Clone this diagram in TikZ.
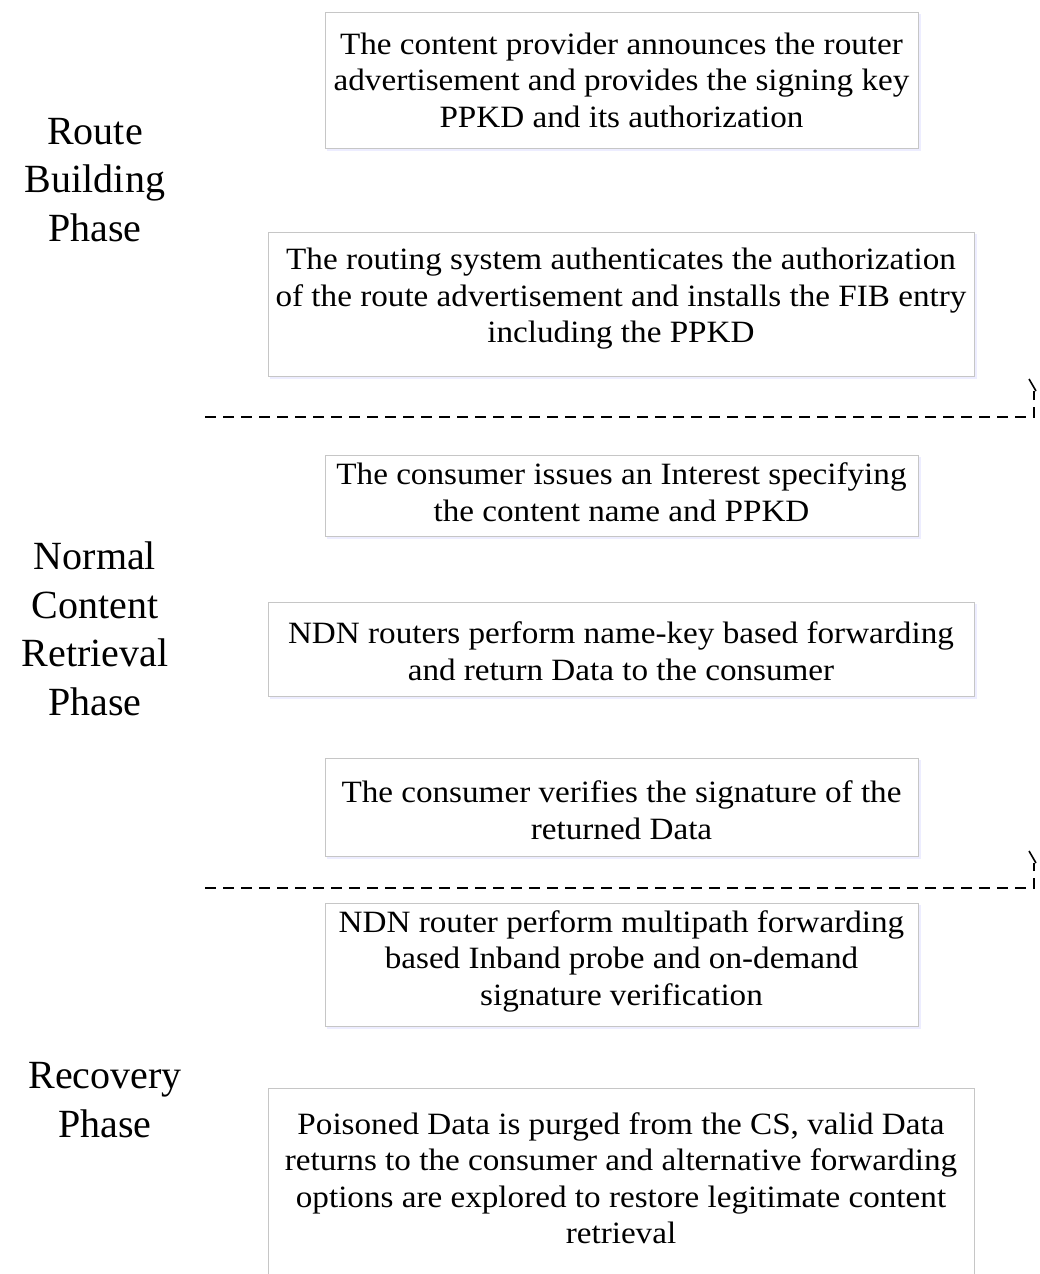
\documentclass[tikz,border=0pt]{standalone}
\usepackage{fontspec}
\setmainfont{Liberation Serif}
\newfontfamily\boxfont[FakeStretch=1.07]{Liberation Serif}
\usetikzlibrary{arrows.meta}
\begin{document}
\begin{tikzpicture}[x=1pt,y=-1pt,
  stepbox/.style={draw=gray!45, line width=1.3pt, fill=white, inner sep=0pt, anchor=north west},
  steptext/.style={align=center, font=\boxfont\fontsize{31}{36.5}\selectfont},
  phase/.style={align=center, font=\fontsize{40}{48.5}\selectfont},
  sep/.style={line width=1.6pt, dash pattern=on 11pt off 7pt},
  shade/.style={fill=blue!7, draw=none}]
\useasboundingbox (0,0) rectangle (1040,1274);
\clip (0,0) rectangle (1040,1274);
% shadows
\fill[shade] (327,14) rectangle (921,151);
\fill[shade] (270,234) rectangle (977,379);
\fill[shade] (327,457) rectangle (921,539);
\fill[shade] (270,604) rectangle (977,699);
\fill[shade] (327,760) rectangle (921,859);
\fill[shade] (327,905) rectangle (921,1029);
% boxes
\node[stepbox, minimum width=593pt, minimum height=136pt] (b1) at (325,12) {};
\node[steptext] (t1) at (621.5,80) {The content provider announces the router\\advertisement and provides the signing key\\PPKD and its authorization};
\node[stepbox, minimum width=706pt, minimum height=144pt] (b2) at (268,232) {};
\node[steptext] (t2) at (621,299) {The routing system authenticates the authorization\\of the route advertisement and installs the FIB entry\\including the PPKD};
\node[stepbox, minimum width=593pt, minimum height=81pt] (b3) at (325,455) {};
\node[steptext] (t3) at (621.5,492) {The consumer issues an Interest specifying\\the content name and PPKD};
\node[stepbox, minimum width=706pt, minimum height=94pt] (b4) at (268,602) {};
\node[steptext] (t4) at (621,651) {NDN routers perform name-key based forwarding\\and return Data to the consumer};
\node[stepbox, minimum width=593pt, minimum height=98pt] (b5) at (325,758) {};
\node[steptext] (t5) at (621.5,810) {The consumer verifies the signature of the\\returned Data};
\node[stepbox, minimum width=593pt, minimum height=123pt] (b6) at (325,903) {};
\node[steptext] (t6) at (621.5,961) {NDN router perform multipath forwarding\\based Inband probe and on-demand\\signature verification};
\node[stepbox, minimum width=706pt, minimum height=220pt] (b7) at (268,1088) {};
\node[steptext] (t7) at (621,1178) {Poisoned Data is purged from the CS, valid Data\\returns to the consumer and alternative forwarding\\options are explored to restore legitimate content\\retrieval};
% phase labels
\node[phase] (p1) at (95,180) {Route\\Building\\Phase};
\node[phase] (p2) at (95,629) {Normal\\Content\\Retrieval\\Phase};
\node[phase] (p3) at (105,1100) {Recovery\\Phase};
% separators
\coordinate (s1a) at (205,417);
\coordinate (s1b) at (1034,417);
\coordinate (s1c) at (1034,391);
\draw[sep] (s1a) -- (s1b) -- (s1c);
\draw[line width=1.6pt] (1029,379) -- (1036,391);
\coordinate (s2a) at (205,888);
\coordinate (s2b) at (1034,888);
\coordinate (s2c) at (1034,863);
\draw[sep] (s2a) -- (s2b) -- (s2c);
\draw[line width=1.6pt] (1029,851) -- (1036,863);
\end{tikzpicture}
\end{document}
